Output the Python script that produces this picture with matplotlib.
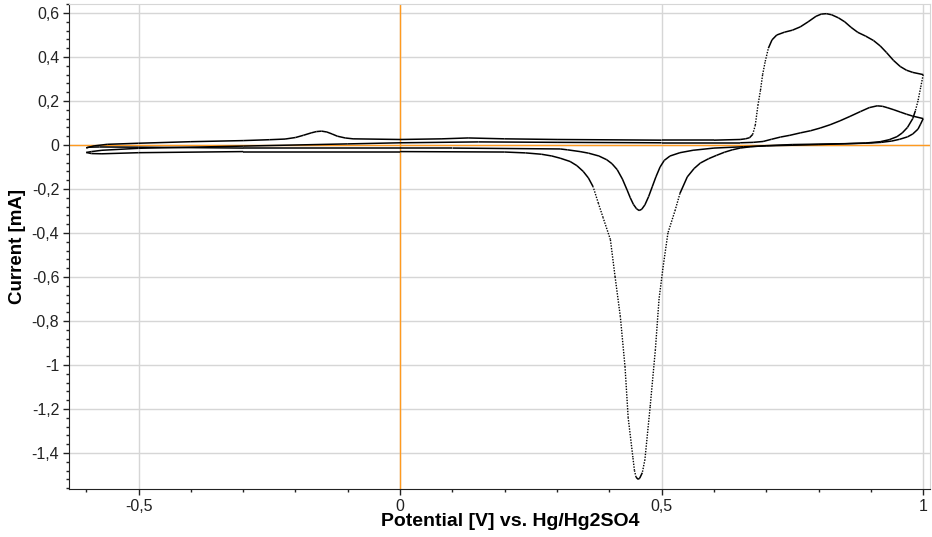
import numpy as np
import matplotlib
matplotlib.use("Agg")
import matplotlib.pyplot as plt
from matplotlib.collections import LineCollection
from matplotlib.ticker import MultipleLocator, FuncFormatter

# ---- data (potential in V, current in mA) ----
large_anodic_E = [-0.600, -0.585, -0.560, -0.500, -0.400, -0.300, -0.250, -0.220, -0.200, -0.185,
                  -0.170, -0.160, -0.150, -0.140, -0.130, -0.120, -0.105, -0.090, 0.000, 0.080,
                  0.130, 0.200, 0.300, 0.500, 0.600, 0.650, 0.660, 0.668, 0.674, 0.679,
                  0.684, 0.689, 0.693, 0.698, 0.704, 0.711, 0.720, 0.735, 0.750, 0.765,
                  0.780, 0.795, 0.805, 0.815, 0.825, 0.838, 0.850, 0.862, 0.875, 0.890,
                  0.905, 0.918, 0.930, 0.943, 0.956, 0.968, 0.980, 1.000]
large_anodic_I = [-0.013, -0.004, 0.003, 0.008, 0.015, 0.020, 0.024, 0.027, 0.034, 0.044,
                  0.055, 0.061, 0.063, 0.059, 0.050, 0.040, 0.032, 0.028, 0.025, 0.028,
                  0.032, 0.028, 0.025, 0.022, 0.022, 0.025, 0.028, 0.033, 0.048, 0.090,
                  0.180, 0.250, 0.320, 0.380, 0.440, 0.478, 0.500, 0.513, 0.522, 0.537,
                  0.560, 0.585, 0.595, 0.597, 0.592, 0.578, 0.560, 0.535, 0.512, 0.495,
                  0.475, 0.450, 0.420, 0.385, 0.357, 0.340, 0.330, 0.320]

large_cathodic_E = [1.000, 0.995, 0.990, 0.985, 0.980, 0.970, 0.960, 0.950, 0.935, 0.918,
                    0.890, 0.850, 0.750, 0.700, 0.670, 0.650, 0.635, 0.620, 0.605, 0.590,
                    0.574, 0.562, 0.549, 0.535, 0.526, 0.512, 0.503, 0.495, 0.488, 0.478,
                    0.468, 0.463, 0.458, 0.455, 0.451, 0.448, 0.445, 0.436, 0.430, 0.421,
                    0.411, 0.402, 0.388, 0.379, 0.369, 0.360, 0.350, 0.338, 0.325, 0.306,
                    0.290, 0.270, 0.240, 0.200, 0.000, -0.300, -0.500, -0.570, -0.590, -0.600]
large_cathodic_I = [0.320, 0.260, 0.200, 0.155, 0.120, 0.080, 0.055, 0.038, 0.024, 0.015,
                    0.009, 0.006, 0.002, -0.003, -0.008, -0.014, -0.022, -0.033, -0.047, -0.062,
                    -0.082, -0.107, -0.145, -0.220, -0.295, -0.400, -0.550, -0.700, -0.930, -1.190,
                    -1.430, -1.490, -1.515, -1.520, -1.510, -1.480, -1.420, -1.240, -1.010, -0.780,
                    -0.600, -0.430, -0.330, -0.265, -0.190, -0.150, -0.120, -0.094, -0.075, -0.060,
                    -0.050, -0.042, -0.036, -0.032, -0.030, -0.030, -0.035, -0.040, -0.039, -0.034]

small_anodic_E = [-0.600, -0.590, -0.570, -0.500, -0.300, -0.100, 0.000, 0.150, 0.300, 0.500,
                  0.650, 0.675, 0.694, 0.710, 0.727, 0.745, 0.765, 0.785, 0.803, 0.822,
                  0.841, 0.860, 0.880, 0.897, 0.912, 0.922, 0.931, 0.944, 0.956, 0.968,
                  0.979, 1.000]
small_anodic_I = [-0.034, -0.030, -0.024, -0.015, -0.005, 0.005, 0.010, 0.014, 0.012, 0.010,
                  0.010, 0.012, 0.016, 0.026, 0.036, 0.044, 0.055, 0.065, 0.077, 0.092,
                  0.110, 0.130, 0.152, 0.170, 0.178, 0.176, 0.170, 0.160, 0.150, 0.140,
                  0.132, 0.120]

small_cathodic_E = [1.000, 0.995, 0.990, 0.980, 0.970, 0.955, 0.940, 0.920, 0.900, 0.800,
                    0.700, 0.656, 0.600, 0.560, 0.535, 0.516, 0.505, 0.497, 0.489, 0.482,
                    0.475, 0.468, 0.462, 0.457, 0.452, 0.446, 0.440, 0.434, 0.425, 0.415,
                    0.405, 0.395, 0.380, 0.360, 0.344, 0.320, 0.306, 0.100, -0.300, -0.500,
                    -0.575, -0.595, -0.600]
small_cathodic_I = [0.120, 0.095, 0.072, 0.050, 0.037, 0.026, 0.018, 0.012, 0.009, 0.002,
                    -0.004, -0.008, -0.014, -0.024, -0.035, -0.050, -0.070, -0.100, -0.145, -0.190,
                    -0.235, -0.272, -0.292, -0.298, -0.290, -0.270, -0.240, -0.205, -0.155, -0.112,
                    -0.085, -0.067, -0.050, -0.037, -0.030, -0.022, -0.018, -0.014, -0.014, -0.010,
                    -0.009, -0.010, -0.013]

x_major = [-0.5, 0.0, 0.5, 1.0]
y_major = [-1.4, -1.2, -1.0, -0.8, -0.6, -0.4, -0.2, 0.0, 0.2, 0.4, 0.6]

# ---- figure ----
plt.rcParams['font.family'] = ['Liberation Sans', 'DejaVu Sans']
fig = plt.figure(figsize=(9.32, 5.37), dpi=100)
ax = fig.add_axes([69/932, 48/537, (930-69)/932, (489-4)/537])
ax.set_xlim(-0.633, 1.013)
ax.set_ylim(-1.564, 0.641)

ax.set_xticks(x_major)
ax.set_yticks(y_major)
ax.xaxis.set_minor_locator(MultipleLocator(0.1))
ax.yaxis.set_minor_locator(MultipleLocator(0.04))

def fmt(v, pos):
    v = round(v, 3)
    if abs(v) < 1e-9:
        return "0"
    return ('%g' % v).replace('.', ',')

ax.xaxis.set_major_formatter(FuncFormatter(fmt))
ax.yaxis.set_major_formatter(FuncFormatter(fmt))
ax.tick_params(axis='both', which='major', direction='out', length=4, width=1,
               labelsize=11.5, colors='#222222', pad=3)
ax.tick_params(axis='both', which='minor', direction='out', length=2.5, width=1, colors='#222222')

ax.grid(True, which='major', color='#d6d6d6', linewidth=1, zorder=0)
ax.set_axisbelow(True)
for s in ['top', 'right']:
    ax.spines[s].set_color('#d6d6d6')
for s in ['left', 'bottom']:
    ax.spines[s].set_color('#222222')

ax.axvline(0, color='#ff9a1f', linewidth=1, zorder=1)
ax.axhline(0, color='#ff9a1f', linewidth=1, zorder=1)

def draw(E, I):
    E = np.asarray(E); I = np.asarray(I)
    pts = ax.transData.transform(np.column_stack([E, I]))
    segs, styles, widths = [], [], []
    for k in range(len(E) - 1):
        dx = abs(pts[k+1, 0] - pts[k, 0]); dy = abs(pts[k+1, 1] - pts[k, 1])
        steep = dy > 3.0 * max(dx, 1e-6)
        segs.append([(E[k], I[k]), (E[k+1], I[k+1])])
        styles.append((0, (1, 1)) if steep else 'solid')
        widths.append(1.0 if steep else 1.1)
    lc = LineCollection(segs, colors='black', linestyles=styles, linewidths=widths,
                        zorder=3, capstyle='butt', joinstyle='round')
    ax.add_collection(lc)

draw(large_anodic_E, large_anodic_I)
draw(large_cathodic_E, large_cathodic_I)
draw(small_anodic_E, small_anodic_I)
draw(small_cathodic_E, small_cathodic_I)

ax.set_xlabel('Potential [V] vs. Hg/Hg2SO4', fontsize=14, fontweight='bold')
ax.set_ylabel('Current [mA]', fontsize=13.5, fontweight='bold')
ax.xaxis.set_label_coords((510-69)/861, -(522-489)/485)
ax.yaxis.set_label_coords(-(69-18)/861, 0.5)
ax.xaxis.label.set_va('center')
ax.yaxis.label.set_va('center')

fig.savefig('out.png', dpi=100)
